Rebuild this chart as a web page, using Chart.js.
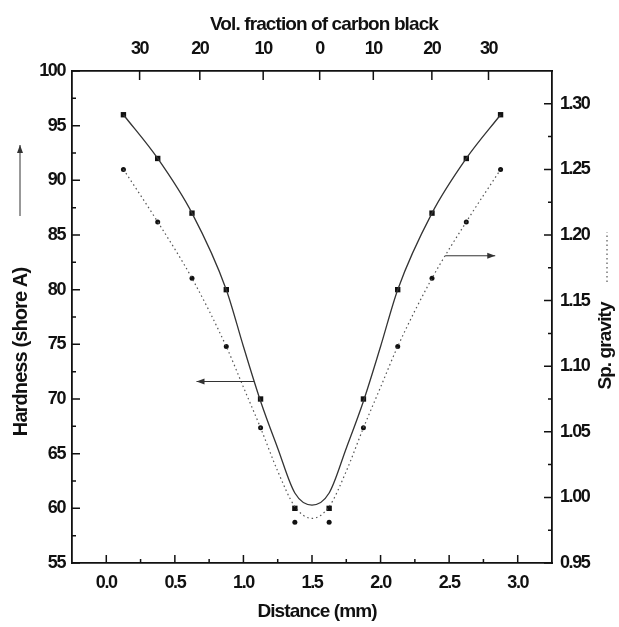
<!DOCTYPE html>
<html>
<head>
<meta charset="utf-8">
<script src="https://cdn.jsdelivr.net/npm/chart.js@4.4.1/dist/chart.umd.min.js"></script>
<style>
  html, body { margin: 0; padding: 0; background: #fff; }
  #wrap { width: 619px; height: 627px; position: relative; }
</style>
</head>
<body>
<div id="wrap"><canvas id="chart"></canvas></div>
<script>
// measured points (distance in mm)
const distance = [0.125, 0.375, 0.625, 0.875, 1.125, 1.375, 1.625, 1.875, 2.125, 2.375, 2.625, 2.875];
const hardness = [96, 92, 87, 80, 70, 60, 60, 70, 80, 87, 92, 96];
const spGravity = [1.25, 1.21, 1.167, 1.115, 1.053, 0.981, 0.981, 1.053, 1.115, 1.167, 1.21, 1.25];

// fitted curves
const fitX = [0.125, 0.375, 0.625, 0.875, 1.0, 1.125, 1.25, 1.375, 1.5, 1.625, 1.75, 1.875, 2.0, 2.125, 2.375, 2.625, 2.875];
const hardnessFit = [96, 92, 87, 80, 74.8, 69.8, 65.5, 61.4, 60.3, 61.4, 65.5, 69.8, 74.8, 80, 87, 92, 96];
const gravityFit = [1.25, 1.21, 1.167, 1.115, 1.084, 1.053, 1.02, 0.993, 0.984, 0.993, 1.02, 1.053, 1.084, 1.115, 1.167, 1.21, 1.25];

// tick labels
const xTickVals = [0, 0.5, 1.0, 1.5, 2.0, 2.5, 3.0];
const topTickPos = [0.243, 0.682, 1.144, 1.556, 1.947, 2.374, 2.787];
const topTickLabels = ['30', '20', '10', '0', '10', '20', '30'];

const INK = '#111';
const TITLE_FONT = 'bold 19px "Liberation Sans", Arial, sans-serif';

const pts = (xs, ys) => xs.map((x, i) => ({ x: x, y: ys[i] }));

function drawArrow(ctx, x1, y1, x2, y2) {
    const a = Math.atan2(y2 - y1, x2 - x1);
    ctx.beginPath();
    ctx.moveTo(x1, y1);
    ctx.lineTo(x2, y2);
    ctx.stroke();
    ctx.beginPath();
    ctx.moveTo(x2, y2);
    ctx.lineTo(x2 - 8 * Math.cos(a) + 3 * Math.sin(a), y2 - 8 * Math.sin(a) - 3 * Math.cos(a));
    ctx.lineTo(x2 - 8 * Math.cos(a) - 3 * Math.sin(a), y2 - 8 * Math.sin(a) + 3 * Math.cos(a));
    ctx.closePath();
    ctx.fill();
}

function minors(scale) {
    const v = scale.ticks.map(t => t.value);
    const step = v[1] - v[0];
    const out = [];
    for (let i = 0; i < v.length - 1; i++) out.push((v[i] + v[i + 1]) / 2);
    if (v[0] - step / 2 > scale.min + 1e-9) out.push(v[0] - step / 2);
    if (v[v.length - 1] + step / 2 < scale.max - 1e-9) out.push(v[v.length - 1] + step / 2);
    return out;
}

const decor = {
    id: 'decor',
    beforeDraw(chart) {
        chart.ctx.letterSpacing = '-1.4px';
    },
    afterDraw(chart) {
        const { ctx, scales, chartArea } = chart;
        const { x, xTop, y, y2 } = scales;
        ctx.save();
        ctx.strokeStyle = INK;
        ctx.fillStyle = INK;
        ctx.lineWidth = 1.5;

        // inward ticks
        ctx.beginPath();
        x.ticks.forEach(t => { const p = x.getPixelForValue(t.value); ctx.moveTo(p, chartArea.bottom); ctx.lineTo(p, chartArea.bottom - 8); });
        minors(x).forEach(v => { const p = x.getPixelForValue(v); ctx.moveTo(p, chartArea.bottom); ctx.lineTo(p, chartArea.bottom - 4); });
        xTop.ticks.forEach(t => { const p = xTop.getPixelForValue(t.value); ctx.moveTo(p, chartArea.top); ctx.lineTo(p, chartArea.top + 9); });
        y.ticks.forEach(t => { const p = y.getPixelForValue(t.value); ctx.moveTo(chartArea.left, p); ctx.lineTo(chartArea.left + 8, p); });
        minors(y).forEach(v => { const p = y.getPixelForValue(v); ctx.moveTo(chartArea.left, p); ctx.lineTo(chartArea.left + 4, p); });
        y2.ticks.forEach(t => { const p = y2.getPixelForValue(t.value); ctx.moveTo(chartArea.right, p); ctx.lineTo(chartArea.right - 8, p); });
        minors(y2).forEach(v => { const p = y2.getPixelForValue(v); ctx.moveTo(chartArea.right, p); ctx.lineTo(chartArea.right - 4, p); });
        ctx.stroke();

        // pointer arrows to the axes
        ctx.lineWidth = 1;
        ctx.strokeStyle = '#333';
        ctx.fillStyle = '#333';
        drawArrow(ctx, x.getPixelForValue(1.078), y.getPixelForValue(71.6), x.getPixelForValue(0.658), y.getPixelForValue(71.6));
        drawArrow(ctx, x.getPixelForValue(2.471), y.getPixelForValue(83.1), x.getPixelForValue(2.836), y.getPixelForValue(83.1));

        // axis titles
        ctx.fillStyle = INK;
        ctx.font = TITLE_FONT;
        ctx.letterSpacing = '-0.9px';
        ctx.textAlign = 'center';
        ctx.textBaseline = 'middle';
        ctx.fillText('Vol. fraction of carbon black', 324, 25);
        ctx.fillText('Distance (mm)', 317, 612);

        ctx.save();
        ctx.translate(21, 352);
        ctx.rotate(-Math.PI / 2);
        ctx.font = 'bold 20px "Liberation Sans", Arial, sans-serif';
        ctx.fillText('Hardness (shore A)', 0, 0);
        ctx.restore();

        ctx.save();
        ctx.translate(606, 346);
        ctx.rotate(-Math.PI / 2);
        ctx.fillText('Sp. gravity', 0, 0);
        ctx.restore();

        // legend marks next to the side titles
        ctx.strokeStyle = '#333';
        ctx.fillStyle = '#333';
        ctx.lineWidth = 1;
        drawArrow(ctx, 20, 216, 20, 145);
        ctx.setLineDash([1.5, 3]);
        ctx.beginPath();
        ctx.moveTo(607, 282);
        ctx.lineTo(607, 232);
        ctx.stroke();
        ctx.restore();
    }
};

const tickFont = { family: '"Liberation Sans", Arial, sans-serif', size: 18, weight: 'bold' };
const axisBase = {
    grid: { display: true, drawOnChartArea: false, drawTicks: false },
    border: { display: true, color: INK, width: 1.8 }
};

new Chart(document.getElementById('chart'), {
    type: 'scatter',
    data: {
        datasets: [
            {
                label: 'Hardness fit',
                data: pts(fitX, hardnessFit),
                showLine: true,
                borderColor: '#333',
                borderWidth: 1.3,
                pointRadius: 0,
                cubicInterpolationMode: 'monotone',
                yAxisID: 'y'
            },
            {
                label: 'Sp. gravity fit',
                data: pts(fitX, gravityFit),
                showLine: true,
                borderColor: '#555',
                borderWidth: 1.2,
                borderDash: [1.5, 3],
                pointRadius: 0,
                cubicInterpolationMode: 'monotone',
                yAxisID: 'y2'
            },
            {
                label: 'Hardness',
                data: pts(distance, hardness),
                pointStyle: 'rect',
                pointRadius: 3.8,
                backgroundColor: INK,
                borderColor: INK,
                borderWidth: 0,
                yAxisID: 'y'
            },
            {
                label: 'Sp. gravity',
                data: pts(distance, spGravity),
                pointStyle: 'circle',
                pointRadius: 2.5,
                backgroundColor: INK,
                borderColor: INK,
                borderWidth: 0,
                yAxisID: 'y2'
            }
        ]
    },
    options: {
        responsive: true,
        maintainAspectRatio: false,
        animation: false,
        layout: { padding: 0 },
        plugins: {
            legend: { display: false },
            tooltip: { enabled: false }
        },
        scales: {
            x: {
                ...axisBase,
                type: 'linear',
                position: 'bottom',
                min: -0.25,
                max: 3.25,
                afterFit: s => { s.height = 64; },
                afterBuildTicks: s => { s.ticks = xTickVals.map(v => ({ value: v })); },
                ticks: {
                    color: INK,
                    font: tickFont,
                    padding: 9,
                    maxRotation: 0,
                    autoSkip: false,
                    callback: v => v.toFixed(1)
                }
            },
            xTop: {
                ...axisBase,
                type: 'linear',
                position: 'top',
                min: -0.25,
                max: 3.25,
                afterFit: s => { s.height = 71; },
                afterBuildTicks: s => { s.ticks = topTickPos.map(v => ({ value: v })); },
                ticks: {
                    color: INK,
                    font: tickFont,
                    padding: 11,
                    maxRotation: 0,
                    autoSkip: false,
                    callback: (v, i) => topTickLabels[i]
                }
            },
            y: {
                ...axisBase,
                position: 'left',
                min: 55,
                max: 100,
                afterFit: s => { s.width = 72; },
                ticks: {
                    stepSize: 5,
                    color: INK,
                    font: tickFont,
                    padding: 7
                }
            },
            y2: {
                ...axisBase,
                position: 'right',
                min: 0.95,
                max: 1.325,
                afterFit: s => { s.width = 67; },
                ticks: {
                    stepSize: 0.05,
                    includeBounds: false,
                    color: INK,
                    font: tickFont,
                    padding: 8,
                    callback: v => v.toFixed(2)
                }
            }
        }
    },
    plugins: [decor]
});
</script>
</body>
</html>
